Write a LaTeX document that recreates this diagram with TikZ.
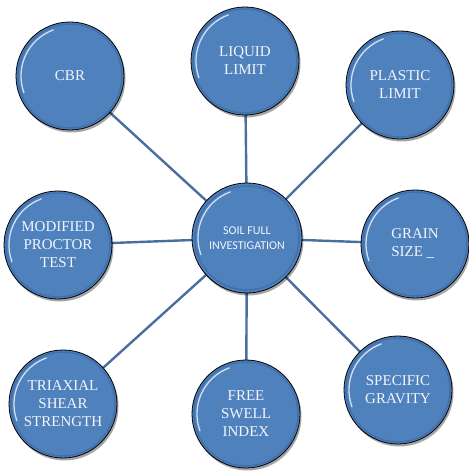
\documentclass[tikz,border=0pt]{standalone}
\usepackage{fontspec}
\setmainfont{Liberation Serif}
\newfontfamily\calib{Carlito}
\usetikzlibrary{shadows}
\pgfdeclarelayer{background}
\pgfsetlayers{background,main}
\definecolor{ballblue}{HTML}{4F81BD}
\definecolor{rimblue}{HTML}{3F6CA6}
\definecolor{linkblue}{HTML}{4A6E9E}
\definecolor{txt}{HTML}{F2F5FA}
\tikzset{
  ball/.style={circle, fill=ballblue, draw=black, line width=0.8pt,
    minimum size=108pt, inner sep=0pt, align=center, text=txt,
    font=\fontsize{15}{18}\selectfont,
    drop shadow={shadow xshift=1.5pt, shadow yshift=-2.5pt, opacity=0.35, fill=black}},
  hub/.style={ball, minimum size=110pt, font=\calib\fontsize{12}{15}\selectfont},
  link/.style={draw=linkblue, line width=2.4pt},
  shine/.style={draw=white, line width=1.3pt, opacity=0.75, line cap=round},
  rim/.style={draw=rimblue, line width=1.5pt, opacity=0.8}
}
\begin{document}
\begin{tikzpicture}[x=1pt,y=1pt]
\useasboundingbox (0,0) rectangle (469,472);
\node[hub] (c) at (247,234) {SOIL FULL\\INVESTIGATION};
\node[ball] (cbr) at (70,396) {CBR};
\node[ball] (ll) at (245,411) {LIQUID\\LIMIT};
\node[ball] (pl) at (400,387) {PLASTIC\\LIMIT};
\node[ball, align=left] (gs) at (415,228) {GRAIN\\SIZE \_};
\node[ball] (mp) at (58,227) {MODIFIED\\PROCTOR\\TEST};
\node[ball] (tx) at (63,68) {TRIAXIAL\\SHEAR\\STRENGTH};
\node[ball] (fs) at (246,58) {FREE\\SWELL\\INDEX};
\node[ball] (sg) at (398,82) {SPECIFIC\\GRAVITY};
\begin{pgfonlayer}{background}
\foreach \n in {cbr,ll,pl,gs,mp,tx,fs,sg}
  \draw[link] (c.center) -- (\n.center);
\end{pgfonlayer}
\foreach \n in {c,cbr,ll,pl,gs,mp,tx,fs,sg} {
  \draw[rim] (\n.center) circle[radius=52];
  \draw[shine] ([shift={(110:49)}]\n.center) arc[start angle=110,end angle=200,radius=49];
}
\end{tikzpicture}
\end{document}
